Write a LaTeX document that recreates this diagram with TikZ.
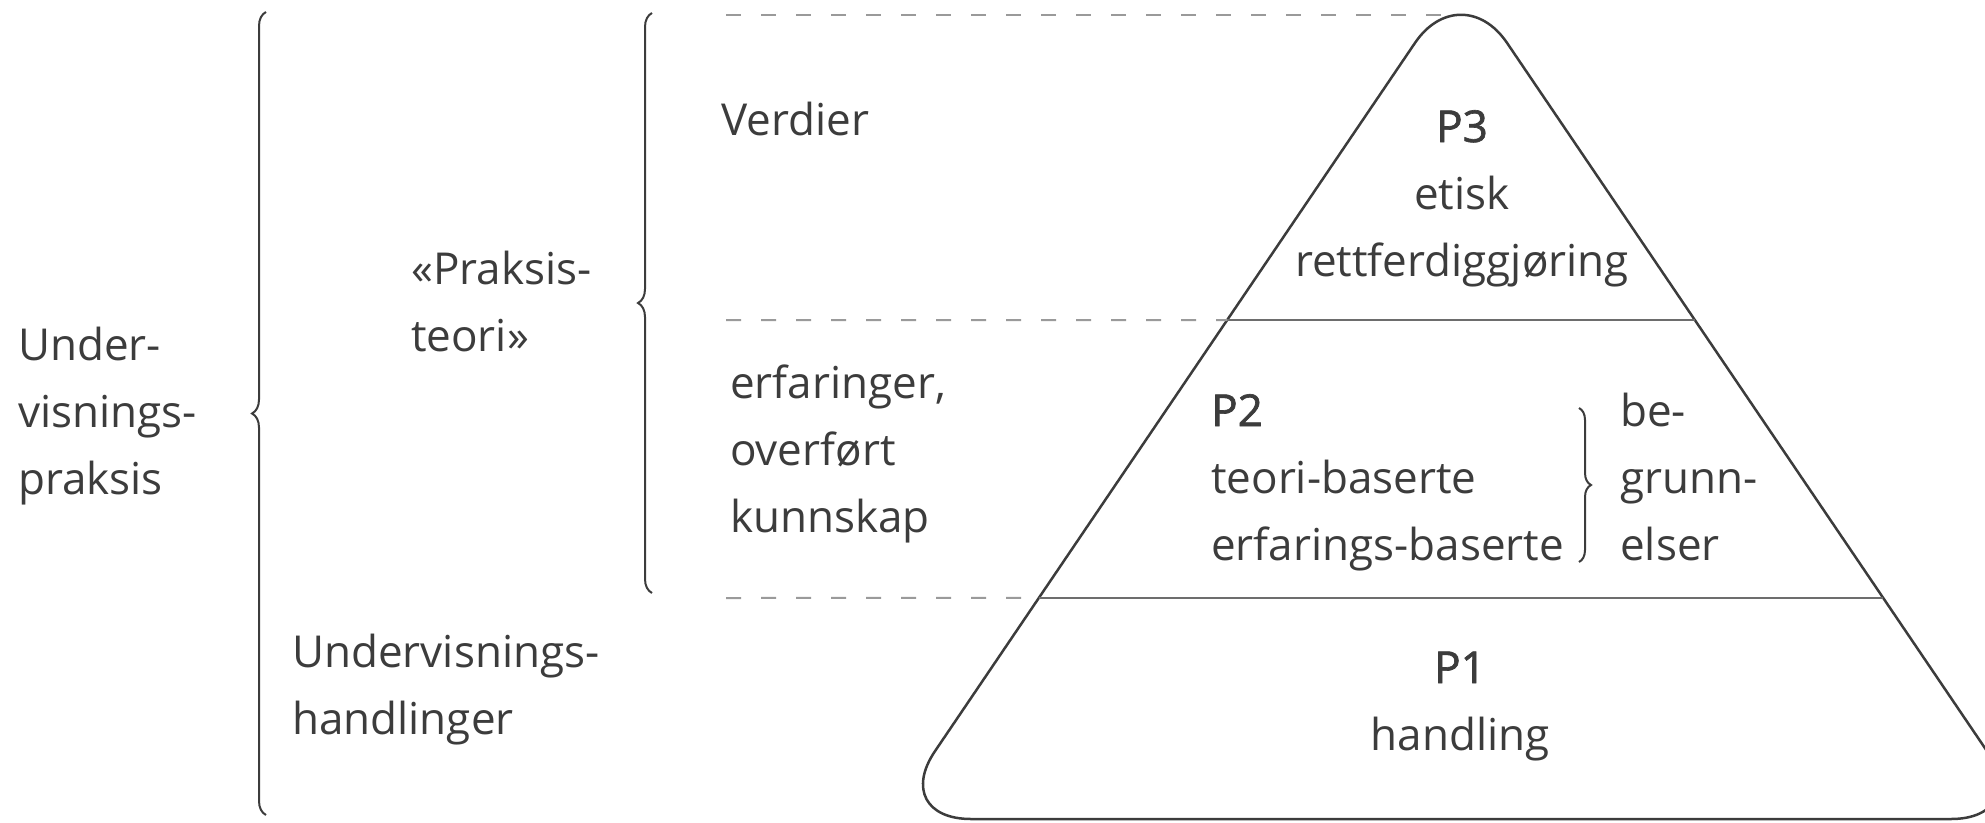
\documentclass[tikz,border=0pt]{standalone}
\usepackage{fontspec}
\setmainfont{Open Sans}
\newfontfamily\plabel{Open Sans}[FakeBold=1.5]
\usetikzlibrary{calc,decorations.pathreplacing}
\definecolor{ink}{HTML}{3C3C3C}
\definecolor{dashgray}{HTML}{9A9A9A}

\begin{document}
\begin{tikzpicture}[x=1pt,y=1pt]
    \tikzstyle{every node}=[inner sep=0,text=ink,font=\fontsize{44}{67}\selectfont]
    \tikzstyle{txt}=[anchor=base west,align=left]
    \tikzstyle{mid}=[anchor=base,align=center]
    \tikzstyle{brc}=[draw=ink,line width=2pt,decorate,decoration={brace,amplitude=14pt}]
    \tikzstyle{lvl}=[draw=ink,line width=2.5pt]
    \tikzstyle{guide}=[draw=dashgray,line width=2pt,dash pattern=on 15pt off 20pt]
    \useasboundingbox (0,0) rectangle (1985,-822);

    \coordinate (apex) at (1461,25);
    \coordinate (bl) at (889,-819);
    \coordinate (br) at (2033,-819);
    \coordinate (l2) at ($(apex)!0.4088!(bl)$);
    \coordinate (r2) at ($(apex)!0.4088!(br)$);
    \coordinate (l1) at ($(apex)!0.738!(bl)$);
    \coordinate (r1) at ($(apex)!0.738!(br)$);

    \draw[lvl,rounded corners=82pt] (1461,-819) -- (br) -- (apex) -- (bl) -- cycle;
    \draw[lvl,draw=ink!75] (l2) -- (r2);
    \draw[lvl,draw=ink!75] (l1) -- (r1);

    \coordinate (g3) at (726,-15);
    \coordinate (g2) at (726,-320);
    \coordinate (g1) at (726,-598);
    \draw[guide] (g3) -- (g3 -| apex);
    \draw[guide] (g2) -- (l2);
    \draw[guide] (g1) -- (l1);

    \draw[brc] (266,-815) -- (266,-12);
    \draw[brc] (652,-593) -- (652,-13);
    \draw[brc,decoration={amplitude=12pt}] (1579,-408) -- (1579,-562);

    \node[txt] (undpraks) at (18,-494) {Under-\\visnings-\\praksis};
    \node[txt] (praksteori) at (411,-351) {«Praksis-\\teori»};
    \node[txt] (undhandl) at (292,-734) {Undervisnings-\\handlinger};
    \node[txt] (verdier) at (721,-135) {Verdier};
    \node[txt] (erfaring) at (730,-532) {erfaringer,\\overført\\kunnskap};
    \node[mid] (p3) at (1462,-276) {{\plabel P3}\\etisk\\rettferdiggjøring};
    \node[txt] (p2) at (1211,-560) {{\plabel P2}\\teori-baserte\\erfarings-baserte};
    \node[txt] (begr) at (1620,-560) {be-\\grunn-\\elser};
    \node[mid] (p1) at (1460,-750) {{\plabel P1}\\handling};
\end{tikzpicture}
\end{document}
